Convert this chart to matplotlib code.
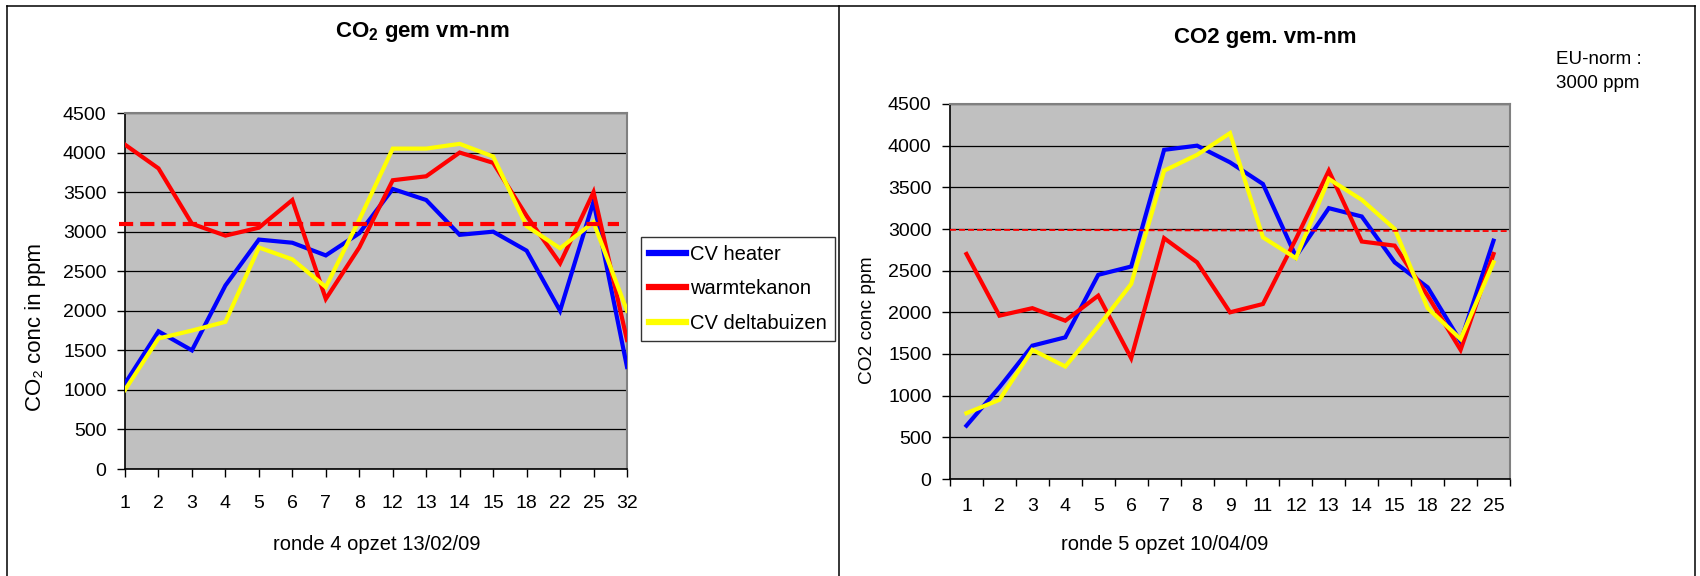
import matplotlib
matplotlib.use("Agg")
import matplotlib.pyplot as plt
from matplotlib.lines import Line2D
import numpy as np

plt.rcParams['font.family'] = ['Liberation Sans', 'DejaVu Sans']
plt.rcParams['mathtext.fontset'] = 'custom'
plt.rcParams['mathtext.rm'] = 'Liberation Sans'
plt.rcParams['mathtext.bf'] = 'Liberation Sans:bold'

# ---------------- data ----------------
left_categories = ["1", "2", "3", "4", "5", "6", "7", "8", "12", "13", "14", "15", "18", "22", "25", "32"]
left_cv_heater = [1080, 1740, 1500, 2320, 2900, 2860, 2700, 2980, 3540, 3400, 2960, 3000, 2760, 2000, 3380, 1290]
left_warmtekanon = [4100, 3800, 3100, 2950, 3050, 3400, 2150, 2800, 3650, 3700, 4000, 3870, 3200, 2600, 3500, 1630]
left_cv_deltabuizen = [1000, 1650, 1750, 1860, 2800, 2650, 2300, 3150, 4050, 4050, 4110, 3950, 3070, 2790, 3120, 2000]
left_norm = 3100

right_categories = ["1", "2", "3", "4", "5", "6", "7", "8", "9", "11", "12", "13", "14", "15", "18", "22", "25"]
right_cv_heater = [640, 1100, 1600, 1700, 2450, 2550, 3950, 4000, 3800, 3540, 2670, 3250, 3150, 2600, 2300, 1650, 2860]
right_warmtekanon = [2700, 1960, 2050, 1900, 2200, 1450, 2890, 2600, 2000, 2100, 2880, 3700, 2850, 2800, 2200, 1550, 2700]
right_cv_deltabuizen = [790, 950, 1550, 1350, 1830, 2340, 3700, 3890, 4150, 2900, 2650, 3600, 3350, 3000, 2050, 1680, 2600]
right_norm_start, right_norm_end = 2990, 2975

series_names = ["CV heater", "warmtekanon", "CV deltabuizen"]
series_colors = ["#0000FF", "#FF0000", "#FFFF00"]

y_ticks = [0, 500, 1000, 1500, 2000, 2500, 3000, 3500, 4000, 4500]

# ---------------- figure ----------------
W, H = 1700, 576
fig = plt.figure(figsize=(W / 100, H / 100), dpi=100)
fig.patch.set_facecolor('white')

def fx(px):
    return px / W

def fy(py):
    return 1 - py / H

def style_axes(ax, fs):
    ax.set_facecolor('#C0C0C0')
    ax.set_ylim(0, 4500)
    ax.set_yticks(y_ticks)
    ax.set_yticklabels([str(v) for v in y_ticks], fontsize=fs)
    ax.yaxis.grid(True, color='black', linewidth=0.9)
    ax.set_axisbelow(True)
    for s in ['top', 'right']:
        ax.spines[s].set_color('#808080')
        ax.spines[s].set_linewidth(1.5)
    for s in ['left', 'bottom']:
        ax.spines[s].set_color('black')
        ax.spines[s].set_linewidth(1.2)
    ax.tick_params(axis='y', direction='out', length=5.8, width=1, pad=7.5, colors='black')

# ---------- left chart ----------
axL = fig.add_axes([fx(125), fy(469), fx(502), 356 / H])
style_axes(axL, 14)
xL = np.arange(len(left_categories))
lines = []
for vals, name, col in zip([left_cv_heater, left_warmtekanon, left_cv_deltabuizen], series_names, series_colors):
    ln, = axL.plot(xL, vals, color=col, linewidth=3, label=name, solid_joinstyle='miter', zorder=3)
    lines.append(ln)
axL.set_xlim(0, len(left_categories) - 1)
axL.set_xticks(xL)
axL.set_xticklabels(left_categories, fontsize=14)
axL.tick_params(axis='x', direction='out', length=5.8, width=1, pad=13)
axL.plot([-0.011, 0.985], [left_norm, left_norm], transform=axL.get_yaxis_transform(),
         color='#FF0000', linewidth=3, linestyle=(0, (3.4, 1.7)), clip_on=False, zorder=5)

# ---------- right chart ----------
axR = fig.add_axes([fx(950), fy(479), fx(560), 375 / H])
style_axes(axR, 14)
xR = np.arange(len(right_categories))
for vals, name, col in zip([right_cv_heater, right_warmtekanon, right_cv_deltabuizen], series_names, series_colors):
    axR.plot(xR, vals, color=col, linewidth=3, label=name, solid_joinstyle='miter', zorder=3)
axR.set_xlim(-0.5, len(right_categories) - 0.5)
axR.set_xticks(xR)
axR.set_xticklabels(right_categories, fontsize=14)
axR.set_xticks(np.arange(-0.5, len(right_categories)), minor=True)
axR.tick_params(axis='x', which='major', length=0, pad=14)
axR.tick_params(axis='x', which='minor', direction='out', length=5.2, width=1)
axR.plot([0, 1], [right_norm_start, right_norm_end], transform=axR.get_yaxis_transform(),
         color='#FF0000', linewidth=1.3, linestyle=(0, (3.3, 1.7)), zorder=5)

# ---------- texts ----------
fig.text(fx(422), fy(32), r'CO$_\mathbf{2}$ gem vm-nm', ha='center', va='center',
         fontsize=16, fontweight='bold')
fig.text(fx(1265), fy(38), 'CO2 gem. vm-nm', ha='center', va='center',
         fontsize=16, fontweight='bold')
fig.text(fx(1556), fy(60), 'EU-norm :', ha='left', va='center', fontsize=13.5)
fig.text(fx(1556), fy(84), '3000 ppm', ha='left', va='center', fontsize=13.5)
fig.text(fx(377), fy(545), 'ronde 4 opzet 13/02/09', ha='center', va='center', fontsize=14.5)
fig.text(fx(1165), fy(545), 'ronde 5 opzet 10/04/09', ha='center', va='center', fontsize=14.5)
fig.text(fx(36), fy(327), 'CO\u2082 conc in ppm', ha='center', va='center', rotation=90, fontsize=16)
fig.text(fx(867), fy(320), 'CO2 conc ppm', ha='center', va='center', rotation=90, fontsize=13.8)

# ---------- legend ----------
leg = fig.legend(handles=lines, labels=series_names, loc='upper left',
                 bbox_to_anchor=(fx(640.7), fy(237.3)), bbox_transform=fig.transFigure,
                 borderaxespad=0, fontsize=14.5, handlelength=1.85, handletextpad=0.2,
                 labelspacing=0.75, borderpad=0.4, fancybox=False, frameon=True)
leg.get_frame().set_edgecolor('black')
leg.get_frame().set_linewidth(1.0)
for h in leg.get_lines():
    h.set_linewidth(4.5)

# ---------- outer frames ----------
frame_kw = dict(color='black', linewidth=1.1, transform=fig.transFigure)
fig.add_artist(Line2D([fx(7), fx(1695)], [fy(6), fy(6)], **frame_kw))
for xp in [7, 839, 1695]:
    fig.add_artist(Line2D([fx(xp), fx(xp)], [fy(6), 0], **frame_kw))

fig.savefig('out.png', dpi=100, facecolor='white')
